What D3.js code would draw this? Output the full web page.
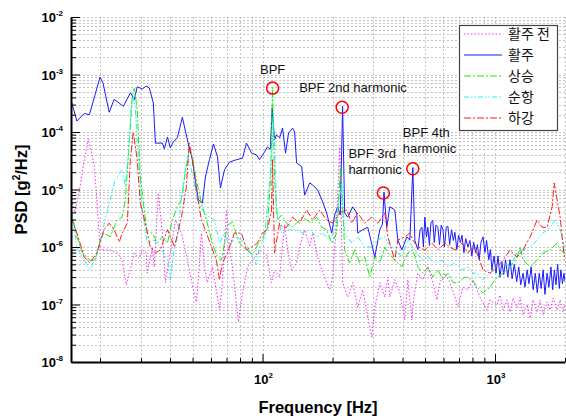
<!DOCTYPE html>
<html>
<head>
<meta charset="utf-8">
<script src="https://cdn.jsdelivr.net/npm/d3@7"></script>
<style>
  body { margin: 0; background: #fff; }
  svg { display: block; font-family: "Liberation Sans", Arial, sans-serif; }
</style>
</head>
<body>
<div id="container"></div>
<script>
/* CONSTANTS AND GLOBALS */
const width = 566;
const height = 420;
const margin = {top: 17, right: 1, bottom: 58, left: 71};

/* DATA */
// 활주 전
const preFreq = [15.0, 15.6, 16.4, 17.1, 17.8, 18.3, 18.9, 19.4, 20.0, 21.9, 23.7, 24.9, 25.9, 27.2, 28.1, 29.5, 30.4, 31.6, 31.9, 33.6, 34.2, 35.6, 37.1, 38.2, 40.1, 42.2, 44.8, 47.5, 49.9, 51.9, 53.0, 54.6, 56.2, 57.9, 60.9, 65.3, 67.2, 70.0, 72.1, 74.2, 78.8, 82.0, 86.2, 90.6, 97.1, 104, 109.3, 112.6, 118.4, 124.4, 128.2, 133.4, 140.1, 144.4, 151.7, 159.5, 164.3, 172.6, 179.6, 185, 194.5, 200.4, 208.4, 214.7, 221.2, 232.5, 244.3, 256.7, 269.8, 283.6, 295.1, 304, 319.4, 335.7, 345.8, 352.7, 370.7, 389.6, 409.4, 421.7, 438.8, 447.6, 465.8, 489.4, 514.2, 540.5, 562.3, 579.4, 608.9, 639.9, 672.4, 692.8, 728.1, 765.2, 804, 861.6, 923.6, 951.5, 1020, 1051, 1083, 1127, 1161, 1196, 1244, 1282, 1320, 1374, 1416, 1458, 1517, 1563, 1610, 1675, 1726, 1778, 1850, 1906, 1964, 2000];
const prePsd = [6.6e-6, 3.9e-6, 1.1e-5, 3.3e-5, 7.5e-5, 4.9e-5, 2.5e-5, 6.6e-6, 8.9e-7, 8.9e-7, 7.9e-7, 5.9e-7, 2.2e-7, 4.5e-7, 7.9e-7, 6.4e-7, 8.9e-7, 7.9e-7, 3.5e-7, 1.0e-6, 4.5e-7, 8.7e-6, 1.75e-6, 2.4e-7, 7.9e-7, 2.95e-6, 1.75e-6, 5.9e-7, 2.2e-7, 1.1e-7, 3.0e-7, 1.75e-6, 4.5e-7, 2.4e-7, 4.5e-7, 8.0e-8, 2.4e-7, 4.4e-6, 8.9e-7, 4.5e-7, 5.0e-8, 1.6e-7, 4.5e-7, 5.9e-7, 8.9e-7, 7.3e-7, 2.4e-7, 4.0e-7, 3.0e-7, 2.4e-6, 8.9e-7, 4.0e-7, 5.3e-7, 1.0e-6, 2.0e-6, 1.0e-6, 1.75e-6, 6.7e-7, 4.0e-7, 3.0e-7, 1.8e-7, 3.0e-7, 2.95e-6, 5.5e-5, 2.4e-7, 1.35e-7, 2.4e-7, 9.0e-8, 1.8e-7, 6.1e-8, 2.7e-8, 9.0e-8, 2.4e-7, 1.35e-7, 3.0e-7, 1.35e-7, 2.7e-7, 1.6e-7, 5.4e-8, 2.7e-7, 5.4e-8, 1.35e-7, 3.5e-7, 2.7e-7, 4.5e-7, 2.4e-7, 1.2e-7, 2.4e-7, 3.5e-7, 2.4e-7, 1.35e-7, 9.0e-8, 2.0e-7, 1.8e-7, 2.7e-7, 1.35e-7, 8.0e-8, 1.2e-7, 9.8e-8, 1.46e-7, 8.0e-8, 1.2e-7, 7.4e-8, 1.3e-7, 8.7e-8, 1.35e-7, 6.6e-8, 1.0e-7, 5.8e-8, 1.2e-7, 7.4e-8, 1.2e-7, 6.6e-8, 1.1e-7, 8.0e-8, 1.3e-7, 8.0e-8, 1.2e-7, 7.4e-8, 1.0e-7];

// 활주
const taxiFreq = [15.0, 15.9, 17.1, 18.0, 20.0, 20.6, 21.9, 23.0, 25.2, 27.0, 28.1, 28.9, 30.4, 31.6, 32.6, 33.9, 34.6, 37.1, 37.8, 39.0, 40.1, 41.3, 43.0, 45.2, 47.5, 49.9, 51.9, 53.0, 55.1, 56.8, 59.1, 61.5, 64.0, 65.9, 68.6, 72.1, 77.2, 82.0, 85.3, 89.7, 94.2, 97.1, 102, 105, 108, 110, 112.6, 114.9, 118.4, 121.9, 125.6, 129.4, 134.7, 137.4, 140.1, 147.3, 151.7, 159.5, 164.3, 172.6, 181.4, 188.7, 198.4, 204.4, 210.5, 216, 221, 225.6, 232.5, 244.3, 254.2, 256.7, 269.8, 283.6, 304, 319.4, 328, 333, 342.4, 352.7, 370.7, 381.9, 397.4, 417.6, 430.2, 443, 452, 466, 476, 485, 492, 499, 507, 514, 522, 530, 540, 548, 557, 568, 577, 587, 597, 606, 617, 627, 638, 650, 662, 672, 685, 697, 710, 721, 735, 748, 765, 780, 795, 810, 825, 840, 855, 870, 888, 905, 920, 940, 955, 970, 990, 1010, 1030, 1050, 1070, 1090, 1110, 1135, 1160, 1185, 1210, 1240, 1265, 1290, 1320, 1345, 1375, 1400, 1430, 1460, 1490, 1520, 1550, 1580, 1610, 1640, 1675, 1705, 1740, 1770, 1800, 1830, 1860, 1890, 1920, 1950, 1980, 2000];
const taxiPsd = [3.6e-4, 1.55e-4, 2.1e-4, 2.0e-4, 9.0e-4, 7.1e-4, 2.2e-4, 3.7e-4, 2.8e-4, 4.8e-4, 3.7e-4, 6.1e-4, 5.6e-4, 6.3e-4, 5.8e-4, 3.2e-4, 6.4e-5, 6.4e-5, 5.1e-5, 8.2e-5, 5.3e-5, 6.7e-5, 7.9e-5, 1.8e-4, 7.3e-5, 3.3e-5, 1.1e-5, 6.6e-6, 5.8e-6, 1.65e-5, 3.3e-5, 6.2e-5, 3.7e-5, 1.06e-5, 2.2e-5, 3.0e-5, 3.3e-5, 3.5e-5, 6.4e-5, 4.3e-5, 4.0e-5, 3.3e-5, 4.5e-5, 5.5e-5, 5.0e-5, 2.6e-4, 7.3e-5, 8.9e-5, 7.9e-5, 1.17e-4, 4.3e-5, 9.6e-5, 1.17e-4, 1.0e-4, 2.9e-5, 2.5e-5, 8.0e-6, 1.3e-5, 1.2e-5, 9.8e-6, 6.1e-6, 3.9e-6, 1.75e-6, 3.6e-6, 5.0e-6, 3.6e-6, 2.8e-4, 3.9e-6, 3.3e-6, 5.0e-6, 3.9e-6, 1.75e-6, 2.0e-6, 2.2e-6, 6.7e-7, 2.0e-6, 2.5e-6, 9.0e-6, 2.2e-6, 5.0e-6, 4.4e-6, 1.32e-6, 8.9e-7, 1.5e-6, 1.32e-6, 2.4e-5, 1.3e-6, 9.0e-7, 2.0e-6, 2.2e-6, 1.0e-6, 3.3e-6, 1.5e-6, 2.2e-6, 1.1e-6, 2.6e-6, 2.9e-6, 1.2e-6, 2.4e-6, 2.2e-6, 1.1e-6, 2.4e-6, 2.0e-6, 1.0e-6, 2.2e-6, 2.3e-6, 1.1e-6, 2.0e-6, 1.3e-6, 1.8e-6, 9.0e-7, 1.6e-6, 1.2e-6, 1.6e-6, 8.0e-7, 1.4e-6, 1.0e-6, 1.3e-6, 7.0e-7, 1.2e-6, 8.0e-7, 1.1e-6, 6.0e-7, 1.2e-6, 1.5e-6, 8.0e-7, 1.3e-6, 6.0e-7, 9.0e-7, 4.0e-7, 7.0e-7, 3.5e-7, 7.0e-7, 3.0e-7, 5.5e-7, 3.3e-7, 6.0e-7, 3.0e-7, 6.0e-7, 2.8e-7, 5.0e-7, 2.5e-7, 4.5e-7, 2.2e-7, 3.5e-7, 2.0e-7, 4.0e-7, 2.3e-7, 4.5e-7, 1.8e-7, 3.5e-7, 1.6e-7, 3.5e-7, 1.9e-7, 4.0e-7, 1.5e-7, 3.5e-7, 2.0e-7, 4.5e-7, 1.8e-7, 4.0e-7, 2.2e-7, 5.0e-7, 1.9e-7, 4.0e-7, 2.3e-7, 3.5e-7, 2.5e-7];

// 상승
const climbFreq = [15.0, 15.9, 16.8, 18.1, 19.1, 20.0, 20.8, 22.1, 23.7, 24.9, 25.7, 26.7, 27.5, 28.1, 28.9, 29.8, 31.0, 31.9, 33.6, 35.3, 37.1, 39.0, 40.9, 43.0, 44.8, 46.6, 48.4, 49.9, 51.9, 54.6, 57.4, 60.3, 63.3, 66.6, 70.6, 74.2, 79.6, 85.3, 90.6, 95.1, 100, 105, 108.3, 110.4, 112.6, 116, 120.7, 126.9, 133.4, 140.1, 147.3, 154.8, 162.6, 171, 179.6, 188.7, 198.4, 208.4, 216.9, 225.6, 237.1, 249.2, 261.9, 275.3, 289.3, 304, 319.4, 335.7, 345.8, 370.7, 397.4, 421.7, 443.2, 465.8, 489.4, 514.2, 540.5, 568, 596.9, 627.3, 659.2, 692.8, 742.7, 796, 836.4, 887.7, 951.5, 1020, 1083, 1161, 1244, 1282, 1320, 1416, 1517, 1610, 1726, 1850, 1906, 2000];
const climbPsd = [4.4e-6, 1.5e-6, 7.9e-7, 5.9e-7, 5.9e-7, 1.32e-6, 1.75e-6, 1.5e-6, 2.95e-6, 3.3e-6, 6.6e-6, 6.4e-5, 4.06e-4, 5.8e-4, 2.4e-4, 1.65e-5, 4.4e-6, 1.75e-6, 1.75e-6, 1.17e-6, 1.5e-6, 1.17e-6, 2.95e-6, 5.0e-6, 6.6e-6, 2.0e-5, 4.9e-5, 3.7e-5, 1.46e-5, 5.8e-6, 2.95e-6, 1.32e-6, 7.3e-7, 5.9e-7, 2.4e-6, 2.7e-6, 1.17e-6, 8.9e-7, 7.3e-7, 1.08e-6, 1.43e-6, 2.14e-6, 1.65e-5, 6.0e-4, 1.65e-5, 2.95e-6, 3.6e-6, 2.6e-6, 2.2e-6, 2.6e-6, 3.3e-6, 2.95e-6, 2.6e-6, 3.3e-6, 2.2e-6, 2.0e-6, 1.17e-6, 1.75e-6, 2.67e-5, 8.9e-7, 5.3e-7, 8.9e-7, 5.3e-7, 6.7e-7, 3.0e-7, 6.7e-7, 5.3e-7, 1.0e-6, 7.9e-7, 5.9e-7, 4.5e-7, 7.9e-7, 8.9e-7, 4.5e-7, 3.5e-7, 4.5e-7, 3.0e-7, 4.0e-7, 2.7e-7, 3.5e-7, 2.4e-7, 2.4e-7, 3.0e-7, 2.7e-7, 2.0e-7, 1.6e-7, 2.0e-7, 3.0e-7, 3.5e-7, 4.5e-7, 6.7e-7, 1.0e-6, 5.9e-7, 4.5e-7, 5.9e-7, 7.9e-7, 8.9e-7, 1.17e-6, 8.9e-7, 7.9e-7];

// 순항
const cruiseFreq = [15.0, 15.9, 17.1, 18.0, 18.9, 20.0, 21.0, 22.1, 23.2, 24.9, 25.7, 26.7, 27.2, 27.8, 28.4, 28.9, 30.4, 31.9, 34.2, 36.3, 39.0, 40.1, 41.8, 43.0, 45.2, 47.5, 49.9, 52.4, 55.1, 59.1, 62.1, 65.3, 68.6, 72.1, 75.7, 81.2, 86.2, 94.2, 97.1, 102, 109.3, 111.5, 114.9, 120.7, 130.7, 140.1, 148.8, 159.5, 171, 181.4, 194.5, 204.4, 219, 225.6, 241.9, 256.7, 275.3, 295.1, 313.1, 335.7, 345.8, 370.7, 397.4, 421.7, 452.1, 484.6, 514.2, 551.3, 591.1, 627.3, 672.4, 720.9, 765.2, 804, 836.4, 887.7, 951.5, 1020, 1083, 1161, 1244, 1320, 1416, 1517, 1610, 1726, 1813, 1906, 2000];
const cruisePsd = [5.0e-6, 1.0e-6, 5.9e-7, 4.0e-7, 5.9e-7, 1.17e-6, 2.95e-6, 6.6e-6, 1.46e-5, 2.2e-5, 1.1e-5, 6.4e-5, 2.4e-4, 4.06e-4, 2.4e-4, 6.4e-5, 4.4e-6, 1.17e-6, 1.32e-6, 1.0e-6, 5.9e-7, 2.67e-7, 1.0e-6, 1.5e-6, 9.8e-6, 3.7e-5, 1.94e-5, 6.6e-6, 4.4e-6, 3.3e-6, 2.95e-6, 1.17e-6, 1.75e-6, 1.0e-6, 1.5e-6, 1.32e-6, 1.0e-6, 4.9e-7, 1.0e-6, 1.5e-6, 3.3e-5, 2.0e-4, 4.4e-6, 1.75e-6, 2.0e-6, 2.0e-6, 1.75e-6, 2.0e-6, 1.5e-6, 1.75e-6, 1.32e-6, 2.0e-6, 1.3e-5, 1.75e-6, 1.17e-6, 1.5e-6, 1.0e-6, 1.0e-6, 1.32e-6, 1.5e-6, 1.17e-6, 8.9e-7, 6.7e-7, 1.32e-6, 8.9e-7, 5.9e-7, 6.7e-7, 5.3e-7, 5.9e-7, 4.5e-7, 5.3e-7, 4.0e-7, 4.5e-7, 3.5e-7, 3.5e-7, 2.7e-7, 3.5e-7, 4.5e-7, 5.3e-7, 4.5e-7, 7.9e-7, 8.9e-7, 1.0e-6, 1.32e-6, 1.75e-6, 2.2e-6, 2.95e-6, 2.0e-6, 8.9e-7];

// 하강
const descentFreq = [15.0, 15.9, 17.1, 18.1, 19.4, 20.8, 21.9, 23.0, 24.2, 24.9, 26.2, 27.0, 27.8, 28.9, 29.8, 31.3, 32.9, 34.6, 36.3, 39.0, 41.8, 44.8, 47.0, 48.4, 49.9, 51.9, 54.6, 57.4, 60.3, 63.3, 65.3, 67.2, 70.6, 75.7, 81.2, 85.3, 89.7, 95.1, 100, 105, 109.3, 110.4, 112.6, 118.4, 121.9, 126.9, 134.7, 144.4, 154.8, 164.3, 176.1, 188.7, 200.4, 214.7, 230.2, 241.9, 256.7, 275.3, 295.1, 313.1, 335.7, 345.8, 370.7, 381.9, 409.4, 430.2, 443.2, 465.8, 499.2, 535.1, 568, 608.9, 639.9, 672.4, 720.9, 765.2, 804, 836.4, 887.7, 951.5, 1020, 1083, 1161, 1244, 1320, 1416, 1517, 1594, 1675, 1761, 1796, 1850, 1906, 1964, 2000];
const descentPsd = [3.3e-6, 1.75e-6, 6.7e-7, 5.3e-7, 7.9e-7, 2.0e-6, 2.6e-6, 2.0e-6, 1.22e-6, 1.75e-6, 2.6e-6, 3.3e-5, 1.0e-4, 3.3e-5, 5.8e-6, 2.6e-6, 1.0e-6, 7.9e-7, 8.9e-7, 2.0e-6, 1.0e-6, 3.3e-6, 1.1e-5, 6.4e-5, 3.3e-5, 9.8e-6, 2.95e-6, 1.75e-6, 1.0e-6, 5.9e-7, 2.67e-7, 5.3e-7, 7.9e-7, 1.75e-6, 1.75e-6, 8.9e-7, 1.0e-6, 1.17e-6, 1.75e-6, 2.0e-6, 4.4e-6, 3.3e-5, 7.9e-7, 2.6e-6, 2.2e-6, 2.2e-6, 3.3e-6, 2.6e-6, 4.4e-6, 2.95e-6, 4.4e-6, 2.95e-6, 2.6e-6, 3.9e-6, 4.4e-6, 2.6e-6, 3.9e-6, 2.6e-6, 3.3e-6, 2.6e-6, 3.9e-6, 1.5e-6, 5.9e-7, 1.32e-6, 1.5e-6, 1.75e-6, 1.32e-6, 1.0e-6, 8.9e-7, 1.17e-6, 8.9e-7, 1.17e-6, 1.0e-6, 8.9e-7, 1.17e-6, 7.9e-7, 1.0e-6, 7.9e-7, 4.0e-7, 3.5e-7, 4.5e-7, 5.9e-7, 8.9e-7, 6.7e-7, 8.9e-7, 1.5e-6, 2.95e-6, 2.2e-6, 2.2e-6, 5.0e-6, 1.3e-5, 6.6e-6, 3.3e-6, 1.0e-6, 5.9e-7];

const seriesNames = ["활주 전", "활주", "상승", "순항", "하강"];

// marked peaks: blade passing frequency and harmonics
const peakFreq = [110.5, 220, 331, 443];
const peakPsd = [5.8e-4, 2.7e-4, 8.7e-6, 2.3e-5];
const peakLabels = [["BPF"], ["BPF 2nd harmonic"], ["BPF 3rd", "harmonic"], ["BPF 4th", "harmonic"]];

const xMajor = [100, 1000];
const yMajor = [1e-8, 1e-7, 1e-6, 1e-5, 1e-4, 1e-3, 1e-2];

/* STYLES */
const colors = ["#ff22ff", "#1a1aff", "#11ee11", "#22f0f0", "#ff1a1a"];
const dashes = ["1.5,2", null, "7,2,2,2", "5,2,1.5,2,1.5,2", "7,2,2,2"];
// draw order follows the legend: later series on top
const series = [
  {freq: preFreq, psd: prePsd},
  {freq: taxiFreq, psd: taxiPsd},
  {freq: climbFreq, psd: climbPsd},
  {freq: cruiseFreq, psd: cruisePsd},
  {freq: descentFreq, psd: descentPsd}
].map((s, i) => ({
  name: seriesNames[i],
  color: colors[i],
  dash: dashes[i],
  values: s.freq.map((f, j) => ({f: f, v: s.psd[j]}))
}));

const svg = d3.select("#container")
  .append("svg")
    .attr("width", width)
    .attr("height", height);

const xScale = d3.scaleLog()
  .domain([15, 2000])
  .range([margin.left, width - margin.right]);

const yScale = d3.scaleLog()
  .domain([1e-8, 1e-2])
  .range([height - margin.bottom, margin.top]);

// minor positions 2..9 in each decade
const xMinor = [];
[10, 100, 1000].forEach(d => {
  for (let k = 2; k <= 9; k++) {
    const v = d * k;
    if (v >= 15 && v <= 2000) xMinor.push(v);
  }
});
const yMinor = [];
yMajor.slice(0, -1).forEach(d => {
  for (let k = 2; k <= 9; k++) yMinor.push(d * k);
});

/* GRID */
const grid = svg.append("g")
  .attr("stroke", "#c4c4c4")
  .attr("stroke-width", 1)
  .attr("stroke-dasharray", "2,2");

grid.selectAll("line.gx")
  .data(xMinor.concat(xMajor))
  .join("line")
    .attr("class", "gx")
    .attr("x1", d => Math.round(xScale(d)) + 0.5)
    .attr("x2", d => Math.round(xScale(d)) + 0.5)
    .attr("y1", yScale(1e-2))
    .attr("y2", yScale(1e-8));

grid.selectAll("line.gy")
  .data(yMinor.concat(yMajor.slice(1)))
  .join("line")
    .attr("class", "gy")
    .attr("x1", xScale(15))
    .attr("x2", xScale(2000))
    .attr("y1", d => Math.round(yScale(d)) + 0.5)
    .attr("y2", d => Math.round(yScale(d)) + 0.5);

/* LINES */
svg.append("clipPath")
  .attr("id", "plot-clip")
  .append("rect")
    .attr("x", xScale(15))
    .attr("y", yScale(1e-2))
    .attr("width", xScale(2000) - xScale(15))
    .attr("height", yScale(1e-8) - yScale(1e-2));

const line = d3.line()
  .x(d => xScale(d.f))
  .y(d => yScale(d.v));

svg.append("g")
  .attr("clip-path", "url(#plot-clip)")
  .selectAll("path")
  .data(series)
  .join("path")
    .attr("fill", "none")
    .attr("stroke", d => d.color)
    .attr("stroke-width", 1)
    .attr("stroke-dasharray", d => d.dash)
    .attr("d", d => line(d.values));

/* AXES */
const xAxisY = yScale(1e-8);
const yAxisX = xScale(15);

svg.append("g")
  .attr("transform", `translate(0, ${xAxisY})`)
  .call(d3.axisBottom(xScale).tickValues(xMinor).tickSize(-4).tickSizeOuter(0).tickFormat(""))
  .call(g => g.select(".domain").remove());

svg.append("g")
  .attr("transform", `translate(0, ${xAxisY})`)
  .call(d3.axisBottom(xScale).tickValues(xMajor).tickSize(-8).tickSizeOuter(0).tickFormat(""))
  .call(g => g.select(".domain").attr("stroke-width", 2));

svg.append("g")
  .attr("transform", `translate(${yAxisX}, 0)`)
  .call(d3.axisLeft(yScale).tickValues(yMinor).tickSize(-5).tickSizeOuter(0).tickFormat(""))
  .call(g => g.select(".domain").remove());

svg.append("g")
  .attr("transform", `translate(${yAxisX}, 0)`)
  .call(d3.axisLeft(yScale).tickValues(yMajor).tickSize(-9).tickSizeOuter(0).tickFormat(""))
  .call(g => g.select(".domain").attr("stroke-width", 2));

// tick labels as 10 with superscript exponent
const yLabels = svg.selectAll("text.ylab")
  .data(yMajor)
  .join("text")
    .attr("class", "ylab")
    .attr("x", yAxisX - 8)
    .attr("y", d => yScale(d) + 5)
    .attr("text-anchor", "end")
    .attr("font-weight", "bold")
    .attr("font-size", 13);
yLabels.append("tspan").text("10");
yLabels.append("tspan")
  .attr("dy", -6)
  .attr("font-size", 8)
  .text(d => Math.round(Math.log10(d)));

const xLabels = svg.selectAll("text.xlab")
  .data(xMajor)
  .join("text")
    .attr("class", "xlab")
    .attr("x", d => xScale(d) + 1)
    .attr("y", xAxisY + 22)
    .attr("text-anchor", "middle")
    .attr("font-weight", "bold")
    .attr("font-size", 13);
xLabels.append("tspan").text("10");
xLabels.append("tspan")
  .attr("dy", -6)
  .attr("font-size", 8)
  .text(d => Math.round(Math.log10(d)));

// axis titles
svg.append("text")
  .attr("x", (xScale(15) + xScale(2000)) / 2)
  .attr("y", 413)
  .attr("text-anchor", "middle")
  .attr("font-weight", "bold")
  .attr("font-size", 16.5)
  .text("Frequency [Hz]");

const yTitle = svg.append("text")
  .attr("transform", `translate(27, ${(yScale(1e-2) + yScale(1e-8)) / 2}) rotate(-90)`)
  .attr("text-anchor", "middle")
  .attr("font-weight", "bold")
  .attr("font-size", 16.5);
yTitle.append("tspan").text("PSD [g");
yTitle.append("tspan").attr("dy", -7).attr("font-size", 10).text("2");
yTitle.append("tspan").attr("dy", 7).text("/Hz]");

/* PEAK MARKERS */
const peaks = peakFreq.map((f, i) => ({f: f, v: peakPsd[i], label: peakLabels[i]}));
// label offsets from each circle centre
const labelOffset = [[0, -14], [-43, -15], [-35, -35], [-10, -32]];
const labelAnchor = ["middle", "start", "start", "start"];

svg.selectAll("circle.peak")
  .data(peaks)
  .join("circle")
    .attr("class", "peak")
    .attr("cx", d => xScale(d.f))
    .attr("cy", d => yScale(d.v))
    .attr("r", 6)
    .attr("fill", "none")
    .attr("stroke", "#ff0000")
    .attr("stroke-width", 1.5);

peaks.forEach((p, i) => {
  const t = svg.append("text")
    .attr("x", xScale(p.f) + labelOffset[i][0])
    .attr("y", yScale(p.v) + labelOffset[i][1])
    .attr("text-anchor", labelAnchor[i])
    .attr("font-size", 13)
    .attr("fill", "#111");
  p.label.forEach((s, k) => {
    t.append("tspan")
      .attr("x", xScale(p.f) + labelOffset[i][0])
      .attr("dy", k === 0 ? 0 : 16)
      .text(s);
  });
});

/* LEGEND */
const legend = svg.append("g").attr("transform", "translate(459, 25)");

legend.append("rect")
  .attr("x", 0.5)
  .attr("y", 0.5)
  .attr("width", 98)
  .attr("height", 105)
  .attr("fill", "#fff")
  .attr("stroke", "#444")
  .attr("stroke-width", 1.2);

const items = legend.selectAll("g.item")
  .data(series)
  .join("g")
    .attr("class", "item")
    .attr("transform", (d, i) => `translate(0, ${9 + i * 21})`);

items.append("line")
  .attr("x1", 5)
  .attr("x2", 43)
  .attr("stroke", d => d.color)
  .attr("stroke-width", 1)
  .attr("stroke-dasharray", d => d.dash);

items.append("text")
  .attr("x", 49)
  .attr("y", 5)
  .attr("font-family", "'Noto Sans CJK KR', sans-serif")
  .attr("font-size", 14)
  .attr("fill", "#111")
  .text(d => d.name);
</script>
</body>
</html>
